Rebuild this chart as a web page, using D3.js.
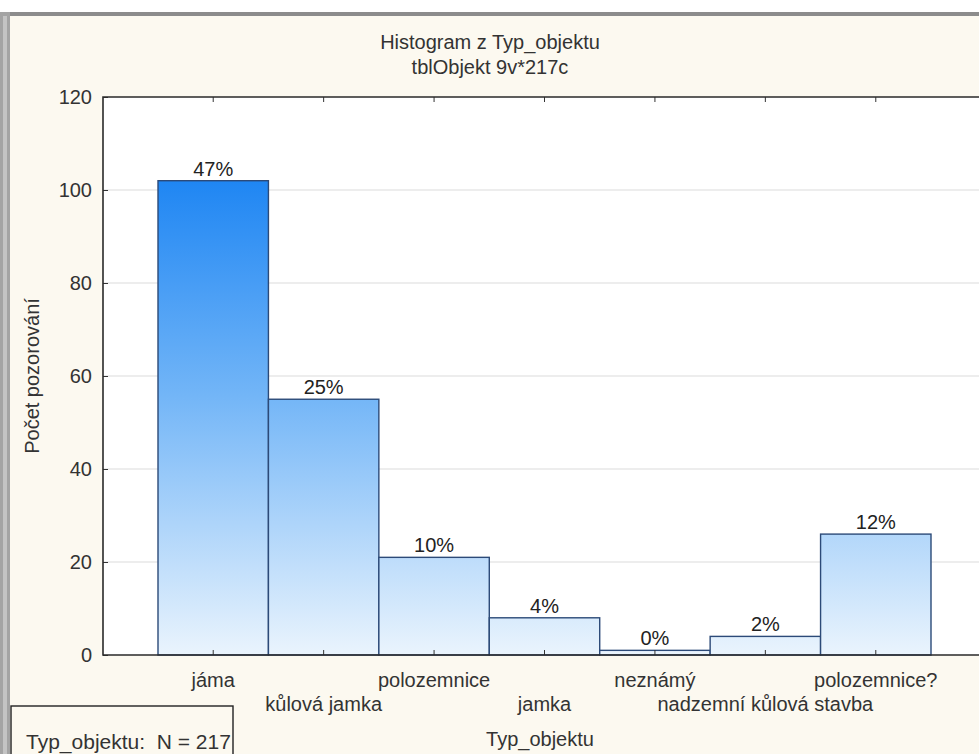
<!DOCTYPE html>
<html>
<head>
<meta charset="utf-8">
<script src="https://cdn.jsdelivr.net/npm/d3@7"></script>
<style>
  html, body { margin: 0; padding: 0; background: #ffffff; overflow: hidden; }
  svg { display: block; font-family: "Liberation Sans", Arial, sans-serif; }
</style>
</head>
<body>
<svg id="chart" width="979" height="754"></svg>
<script>
// Histogram data: object types and their counts
const categories = ["jáma", "kůlová jamka", "polozemnice", "jamka", "neznámý", "nadzemní kůlová stavba", "polozemnice?"];
const counts = [102, 55, 21, 8, 1, 4, 26];
const yTicks = [0, 20, 40, 60, 80, 100, 120];
const titleLines = ["Histogram z Typ_objektu", "tblObjekt 9v*217c"];
const xTitle = "Typ_objektu";
const yTitle = "Počet pozorování";

const W = 979, H = 754;
const FS = 20;
const total = d3.sum(counts);
const svg = d3.select("#chart");

// window frame and background
svg.append("rect").attr("x", 0).attr("y", 0).attr("width", W).attr("height", H).attr("fill", "#ffffff");
svg.append("rect").attr("x", 0).attr("y", 12).attr("width", W).attr("height", H - 12).attr("fill", "#fcf9f0");
svg.append("rect").attr("x", 0).attr("y", 12).attr("width", W).attr("height", 4).attr("fill", "#8c8c8c");
svg.append("rect").attr("x", 0).attr("y", 12).attr("width", 10).attr("height", H - 12).attr("fill", "#a4a4a4");
svg.append("rect").attr("x", 3).attr("y", 16).attr("width", 4).attr("height", H - 16).attr("fill", "#c4c4c4");

// plot area (right edge runs past the visible window)
const plot = { left: 103, right: 1000, top: 97, bottom: 655 };
const x = d3.scaleBand().domain(categories).range([158, 931]).padding(0);
const y = d3.scaleLinear().domain([0, 120]).range([plot.bottom, plot.top]);

svg.append("rect")
  .attr("x", plot.left).attr("y", plot.top)
  .attr("width", plot.right - plot.left).attr("height", plot.bottom - plot.top)
  .attr("fill", "#ffffff");

// gridlines
svg.append("g")
  .selectAll("line")
  .data(yTicks.filter(d => d > 0 && d < 120))
  .join("line")
  .attr("x1", plot.left).attr("x2", plot.right)
  .attr("y1", d => y(d)).attr("y2", d => y(d))
  .attr("stroke", "#dcdcdc").attr("stroke-width", 1.2);

// bar gradient spanning the full value range
const defs = svg.append("defs");
const grad = defs.append("linearGradient")
  .attr("id", "barGrad").attr("gradientUnits", "userSpaceOnUse")
  .attr("x1", 0).attr("x2", 0).attr("y1", y(d3.max(counts))).attr("y2", y(0));
grad.append("stop").attr("offset", "0%").attr("stop-color", "#1f86f3");
grad.append("stop").attr("offset", "45%").attr("stop-color", "#72b5f7");
grad.append("stop").attr("offset", "100%").attr("stop-color", "#eaf4fd");

const data = categories.map((c, i) => ({ c, v: counts[i] }));

svg.append("g")
  .selectAll("rect")
  .data(data)
  .join("rect")
  .attr("x", d => x(d.c))
  .attr("y", d => y(d.v))
  .attr("width", x.bandwidth())
  .attr("height", d => y(0) - y(d.v))
  .attr("fill", "url(#barGrad)")
  .attr("stroke", "#2c4a78").attr("stroke-width", 1.4);

// percentage labels above bars
svg.append("g")
  .selectAll("text")
  .data(data)
  .join("text")
  .attr("x", d => x(d.c) + x.bandwidth() / 2)
  .attr("y", d => y(d.v) - 5)
  .attr("text-anchor", "middle")
  .attr("font-size", FS).attr("fill", "#222")
  .text(d => Math.round(d.v / total * 100) + "%");

// axes
const axisLeft = d3.axisLeft(y).tickValues(yTicks).tickSize(-5).tickPadding(11);
const gy = svg.append("g").attr("transform", `translate(${plot.left},0)`).call(axisLeft);
gy.select(".domain").remove();
gy.selectAll(".tick line").attr("stroke", "#333");
gy.selectAll(".tick text").attr("font-size", FS).attr("fill", "#333")
  .attr("font-family", "'Liberation Sans', Arial, sans-serif");

const axisBottom = d3.axisBottom(x).tickSize(-5).tickFormat("");
const gx = svg.append("g").attr("transform", `translate(0,${plot.bottom})`).call(axisBottom);
gx.select(".domain").remove();
gx.selectAll(".tick line").attr("stroke", "#333");

const axisTop = d3.axisTop(x).tickSize(-5).tickFormat("");
const gt = svg.append("g").attr("transform", `translate(0,${plot.top})`).call(axisTop);
gt.select(".domain").remove();
gt.selectAll(".tick line").attr("stroke", "#333");

// plot frame
svg.append("path")
  .attr("d", `M${plot.right},${plot.top}H${plot.left}V${plot.bottom}H${plot.right}`)
  .attr("fill", "none").attr("stroke", "#2a2a2a").attr("stroke-width", 1.6);

// staggered category labels
svg.append("g")
  .selectAll("text")
  .data(categories)
  .join("text")
  .attr("x", d => x(d) + x.bandwidth() / 2)
  .attr("y", (d, i) => i % 2 === 0 ? 687 : 711)
  .attr("text-anchor", "middle")
  .attr("font-size", FS).attr("fill", "#333")
  .text(d => d);

// titles
svg.append("g")
  .selectAll("text")
  .data(titleLines)
  .join("text")
  .attr("x", 490)
  .attr("y", (d, i) => 49 + i * 25)
  .attr("text-anchor", "middle")
  .attr("font-size", FS).attr("fill", "#333")
  .text(d => d);

svg.append("text")
  .attr("x", 540).attr("y", 746)
  .attr("text-anchor", "middle")
  .attr("font-size", FS).attr("fill", "#333")
  .text(xTitle);

svg.append("text")
  .attr("transform", `translate(39,${(plot.top + plot.bottom) / 2}) rotate(-90)`)
  .attr("text-anchor", "middle")
  .attr("font-size", FS).attr("fill", "#333")
  .text(yTitle);

// legend box
svg.append("rect")
  .attr("x", 11).attr("y", 706).attr("width", 222).attr("height", 60)
  .attr("fill", "#fcf9f0").attr("stroke", "#222").attr("stroke-width", 1.4);
svg.append("text")
  .attr("x", 26).attr("y", 749)
  .attr("font-size", 21).attr("fill", "#333")
  .style("white-space", "pre")
  .text("Typ_objektu:  N = " + total);
</script>
</body>
</html>
